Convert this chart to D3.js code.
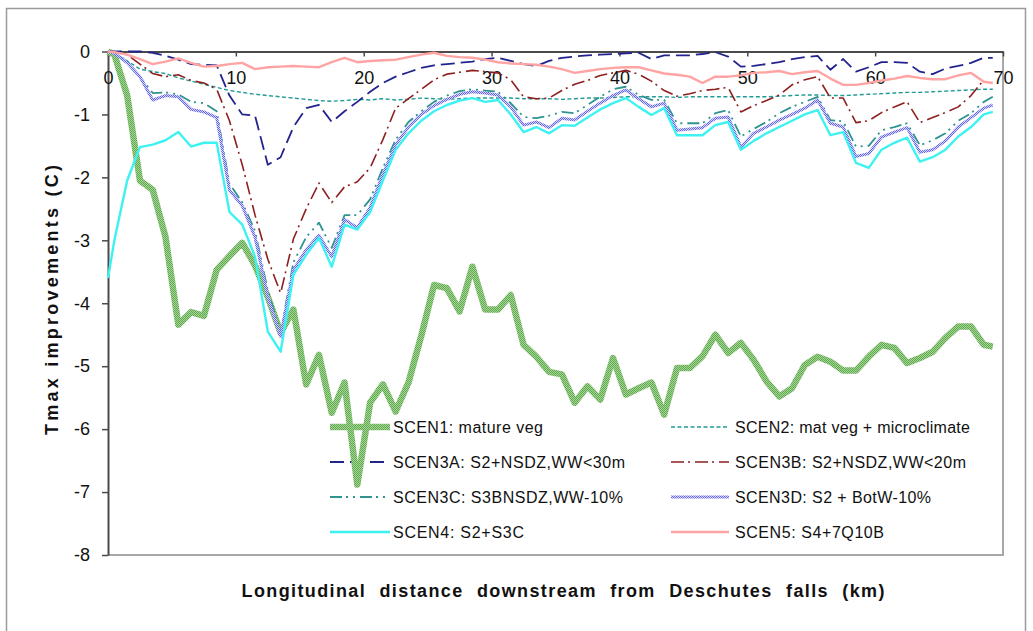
<!DOCTYPE html>
<html>
<head>
<meta charset="utf-8">
<script src="https://cdn.jsdelivr.net/npm/d3@7"></script>
<style>
  html, body { margin: 0; padding: 0; background: #ffffff; }
  svg { display: block; font-family: "Liberation Sans", Arial, sans-serif; }
</style>
</head>
<body>
<script>
// River km of each model node, downstream from Deschutes falls
const km = [0, 0.5, 1.5, 2.5, 3.5, 4.5, 5.5, 6.5, 7.5, 8.5, 9.5,
  10.5, 11.5, 12.5, 13.5, 14.5, 15.5, 16.5, 17.5, 18.5, 19.5,
  20.5, 21.5, 22.5, 23.5, 24.5, 25.5, 26.5, 27.5, 28.5, 29.5,
  30.5, 31.5, 32.5, 33.5, 34.5, 35.5, 36.5, 37.5, 38.5, 39.5,
  40.5, 41.5, 42.5, 43.5, 44.5, 45.5, 46.5, 47.5, 48.5, 49.5,
  50.5, 51.5, 52.5, 53.5, 54.5, 55.5, 56.5, 57.5, 58.5, 59.5,
  60.5, 61.5, 62.5, 63.5, 64.5, 65.5, 66.5, 67.5, 68.5, 69.2];

// Tmax improvement (C) per scenario, one value per node above
const scen1 = [0, -0.05, -0.7, -2.05, -2.2, -2.95, -4.34, -4.14, -4.2, -3.47, -3.25,
  -3.04, -3.4, -3.9, -4.47, -4.1, -5.29, -4.82, -5.74, -5.26, -6.88,
  -5.58, -5.29, -5.72, -5.26, -4.52, -3.71, -3.76, -4.13, -3.42, -4.1,
  -4.1, -3.87, -4.66, -4.85, -5.09, -5.13, -5.58, -5.32, -5.53, -4.87,
  -5.45, -5.35, -5.26, -5.77, -5.03, -5.03, -4.84, -4.5, -4.79, -4.63,
  -4.9, -5.24, -5.48, -5.35, -4.98, -4.85, -4.93, -5.07, -5.07, -4.85,
  -4.66, -4.71, -4.95, -4.87, -4.77, -4.55, -4.37, -4.37, -4.66, -4.69];

const scen2 = [0, -0.02, -0.15, -0.28, -0.32, -0.35, -0.42, -0.47, -0.52, -0.57, -0.62,
  -0.65, -0.68, -0.7, -0.72, -0.74, -0.76, -0.78, -0.79, -0.78, -0.76,
  -0.77, -0.75, -0.77, -0.76, -0.74, -0.75, -0.76, -0.75, -0.74, -0.74,
  -0.74, -0.74, -0.75, -0.75, -0.75, -0.76, -0.75, -0.74, -0.74, -0.73,
  -0.72, -0.72, -0.72, -0.72, -0.73, -0.72, -0.72, -0.72, -0.72, -0.72,
  -0.72, -0.72, -0.71, -0.7, -0.69, -0.69, -0.7, -0.7, -0.69, -0.68,
  -0.67, -0.66, -0.65, -0.65, -0.64, -0.63, -0.62, -0.61, -0.6, -0.6];

const scen3a = [0, 0, 0, 0, -0.02, -0.07, -0.13, -0.2, -0.21, -0.22, -0.7,
  -1.0, -1.02, -1.8, -1.68, -1.2, -0.9, -0.85, -1.12, -0.95, -0.8,
  -0.64, -0.5, -0.4, -0.33, -0.26, -0.22, -0.2, -0.18, -0.16, -0.12,
  -0.1, -0.15, -0.2, -0.23, -0.15, -0.1, -0.08, -0.06, -0.05, -0.04,
  -0.03, -0.02, -0.12, -0.06, -0.06, -0.06, -0.04, -0.01, -0.08, -0.24,
  -0.23, -0.2, -0.17, -0.12, -0.09, -0.07, -0.29, -0.12, -0.32, -0.25,
  -0.17, -0.17, -0.18, -0.32, -0.36, -0.27, -0.23, -0.18, -0.1, -0.1];

const scen3b = [0, -0.01, -0.05, -0.2, -0.35, -0.4, -0.37, -0.46, -0.5, -0.6, -1.1,
  -1.8, -2.6, -3.3, -3.84, -2.98, -2.5, -2.09, -2.4, -2.15, -2.07,
  -1.85, -1.4, -0.9, -0.75, -0.6, -0.45, -0.36, -0.33, -0.3, -0.32,
  -0.34, -0.45, -0.72, -0.75, -0.74, -0.62, -0.52, -0.46, -0.38, -0.34,
  -0.3, -0.36, -0.47, -0.62, -0.71, -0.67, -0.62, -0.6, -0.57, -0.96,
  -0.86, -0.78, -0.69, -0.53, -0.45, -0.4, -0.74, -0.74, -1.13, -1.1,
  -0.97, -0.88, -0.8, -1.13, -1.05, -0.97, -0.88, -0.7, -0.45, null];

const scen3c = [0, -0.03, -0.15, -0.4, -0.66, -0.65, -0.68, -0.8, -0.82, -0.95, -2.1,
  -2.4, -2.85, -3.8, -4.47, -3.35, -2.95, -2.72, -3.12, -2.6, -2.6,
  -2.35, -1.85, -1.4, -1.12, -0.95, -0.8, -0.7, -0.63, -0.6, -0.62,
  -0.64, -0.82, -1.04, -1.06, -1.02, -0.96, -0.98, -0.85, -0.72, -0.6,
  -0.56, -0.69, -0.77, -0.77, -1.14, -1.14, -1.14, -0.98, -0.93, -1.35,
  -1.23, -1.12, -0.98, -0.88, -0.8, -0.72, -1.09, -1.11, -1.51, -1.5,
  -1.25, -1.2, -1.14, -1.49, -1.41, -1.3, -1.1, -0.98, -0.8, -0.72];

const scen3d = [0, -0.03, -0.18, -0.4, -0.77, -0.7, -0.72, -0.92, -0.96, -1.05, -2.2,
  -2.45, -2.95, -3.9, -4.53, -3.47, -3.15, -2.92, -3.26, -2.67, -2.8,
  -2.48, -1.95, -1.48, -1.2, -1.0, -0.86, -0.76, -0.68, -0.64, -0.66,
  -0.69, -0.88, -1.17, -1.12, -1.21, -1.06, -1.09, -0.95, -0.82, -0.7,
  -0.61, -0.75, -0.88, -0.82, -1.25, -1.23, -1.21, -1.06, -1.04, -1.52,
  -1.3, -1.2, -1.09, -1.0, -0.9, -0.77, -1.14, -1.2, -1.67, -1.62,
  -1.36, -1.28, -1.21, -1.6, -1.56, -1.42, -1.2, -1.05, -0.9, -0.85];

const scen4 = [-3.6, -3.0, -2.05, -1.52, -1.48, -1.41, -1.28, -1.51, -1.45, -1.45, -2.55,
  -2.75, -3.26, -4.45, -4.77, -3.55, -3.23, -2.96, -3.42, -2.75, -2.83,
  -2.55, -2.05, -1.56, -1.3, -1.1, -0.95, -0.85, -0.78, -0.74, -0.8,
  -0.77, -1.0, -1.28, -1.2, -1.3, -1.17, -1.18, -1.05, -0.92, -0.82,
  -0.74, -0.88, -1.01, -0.9, -1.33, -1.33, -1.33, -1.17, -1.12, -1.56,
  -1.42, -1.3, -1.2, -1.1, -1.0, -0.93, -1.33, -1.28, -1.77, -1.85,
  -1.56, -1.45, -1.37, -1.75, -1.68, -1.56, -1.35, -1.2, -1.0, -0.96];

const scen5 = [0, -0.01, -0.05, -0.12, -0.2, -0.16, -0.11, -0.18, -0.24, -0.23, -0.2,
  -0.18, -0.28, -0.25, -0.24, -0.23, -0.24, -0.25, -0.17, -0.1, -0.17,
  -0.15, -0.14, -0.13, -0.09, -0.05, -0.02, -0.07, -0.09, -0.1, -0.13,
  -0.17, -0.19, -0.2, -0.21, -0.24, -0.28, -0.34, -0.31, -0.28, -0.26,
  -0.25, -0.25, -0.3, -0.35, -0.37, -0.4, -0.5, -0.4, -0.4, -0.38,
  -0.34, -0.33, -0.31, -0.36, -0.33, -0.31, -0.43, -0.53, -0.53, -0.5,
  -0.46, -0.43, -0.39, -0.42, -0.44, -0.44, -0.38, -0.34, -0.48, -0.5];

const seriesNames = [
  "SCEN1: mature veg",
  "SCEN2: mat veg + microclimate",
  "SCEN3A: S2+NSDZ,WW<30m",
  "SCEN3B: S2+NSDZ,WW<20m",
  "SCEN3C: S3BNSDZ,WW-10%",
  "SCEN3D: S2 + BotW-10%",
  "SCEN4: S2+S3C",
  "SCEN5: S4+7Q10B"
];
const seriesValues = [scen1, scen2, scen3a, scen3b, scen3c, scen3d, scen4, scen5];

const xTicks = [0, 10, 20, 30, 40, 50, 60, 70];
const yTicks = [0, -1, -2, -3, -4, -5, -6, -7, -8];
const yTickLabels = ["0", "-1", "-2", "-3", "-4", "-5", "-6", "-7", "-8"];

const xTitle = "Longitudinal distance downstream from Deschutes falls (km)";
const yTitle = "Tmax improvements (C)";

// ---- styling for each series ----
const styles = [
  { stroke: "url(#texGreen)", width: 6.5, dash: null },
  { stroke: "#1f9a94", width: 1.4, dash: "4,2.5" },
  { stroke: "#23238e", width: 1.8, dash: "14,6" },
  { stroke: "#8e1f1f", width: 1.6, dash: "13,4,2,5" },
  { stroke: "#2f9490", width: 1.8, dash: "12,4,2,5,2,5" },
  { stroke: "url(#texBlue)", width: 3, dash: null },
  { stroke: "#3ef2f2", width: 2.4, dash: null },
  { stroke: "#ffa3a3", width: 2.4, dash: null }
];

const W = 1033, H = 631;
const svg = d3.select("body").append("svg").attr("width", W).attr("height", H);

// textured strokes
const defs = svg.append("defs");
const pg = defs.append("pattern").attr("id", "texGreen")
  .attr("patternUnits", "userSpaceOnUse").attr("width", 2).attr("height", 2);
pg.append("rect").attr("width", 2).attr("height", 2).attr("fill", "#a8d698");
pg.append("rect").attr("width", 1).attr("height", 1).attr("fill", "#5ea84e");
pg.append("rect").attr("x", 1).attr("y", 1).attr("width", 1).attr("height", 1).attr("fill", "#5ea84e");
const pb = defs.append("pattern").attr("id", "texBlue")
  .attr("patternUnits", "userSpaceOnUse").attr("width", 2).attr("height", 2);
pb.append("rect").attr("width", 2).attr("height", 2).attr("fill", "#dadaff");
pb.append("rect").attr("width", 1).attr("height", 1).attr("fill", "#6262f2");
pb.append("rect").attr("x", 1).attr("y", 1).attr("width", 1).attr("height", 1).attr("fill", "#6262f2");

// outer chart frame
svg.append("rect").attr("x", 6.5).attr("y", 8.5).attr("width", 1019).attr("height", 650)
  .attr("fill", "#ffffff").attr("stroke", "#9a9a9a").attr("stroke-width", 1.5);

const x = d3.scaleLinear().domain([0, 70]).range([108, 1003]);
const y = d3.scaleLinear().domain([-8, 0]).range([555, 51.5]);

// plot area border (right and bottom)
svg.append("path")
  .attr("d", `M${x(0)},${y(-8)}H${x(70)}V${y(0)}`)
  .attr("fill", "none").attr("stroke", "#a8a8a8").attr("stroke-width", 2);

// y axis
const yAxis = svg.append("g").attr("transform", `translate(${x(0)},0)`)
  .call(d3.axisLeft(y).tickValues(yTicks).tickSize(6).tickSizeOuter(0).tickPadding(12)
    .tickFormat((d, i) => yTickLabels[i]));
yAxis.select(".domain").attr("stroke", "#4a4a4a").attr("stroke-width", 2);
yAxis.selectAll(".tick line").attr("stroke", "#4a4a4a").attr("stroke-width", 1.5);
yAxis.selectAll(".tick text").attr("font-size", 18).attr("fill", "#111")
  .attr("font-family", "Liberation Sans, Arial, sans-serif");

// x axis along the zero line at the top
const xAxis = svg.append("g").attr("transform", `translate(0,${y(0)})`)
  .call(d3.axisBottom(x).tickValues(xTicks).tickSize(5).tickSizeOuter(0).tickPadding(15)
    .tickFormat(d3.format("d")));
xAxis.select(".domain").attr("stroke", "#4a4a4a").attr("stroke-width", 2);
xAxis.selectAll(".tick line").attr("stroke", "#4a4a4a").attr("stroke-width", 1.5);
xAxis.selectAll(".tick text").attr("font-size", 18).attr("fill", "#111")
  .attr("font-family", "Liberation Sans, Arial, sans-serif");

// axis titles
svg.append("text")
  .attr("x", 563).attr("y", 597)
  .attr("text-anchor", "middle")
  .attr("font-size", 18).attr("font-weight", "bold").attr("fill", "#111")
  .attr("word-spacing", 7)
  .attr("textLength", 643).attr("lengthAdjust", "spacing")
  .text(xTitle);
svg.append("text")
  .attr("transform", "translate(58,300) rotate(-90)")
  .attr("text-anchor", "middle")
  .attr("font-size", 18).attr("font-weight", "bold").attr("fill", "#111")
  .attr("textLength", 270).attr("lengthAdjust", "spacing")
  .text(yTitle);

// legend (two columns, row-major), drawn beneath the lines
const legendCols = [{ x0: 330, x1: 390, tx: 393 }, { x0: 671, x1: 729, tx: 735 }];
const legendRows = [427, 462, 497, 532];
const legendWidths = [150, 235, 232, 231, 230, 196, 131, 149];
const legend = svg.append("g");
seriesNames.forEach((name, i) => {
  const c = legendCols[i % 2], ry = legendRows[Math.floor(i / 2)];
  const s = styles[i];
  legend.append("line")
    .attr("x1", c.x0).attr("x2", c.x1).attr("y1", ry).attr("y2", ry)
    .attr("stroke", s.stroke).attr("stroke-width", s.width)
    .attr("stroke-dasharray", s.dash);
  legend.append("text")
    .attr("x", c.tx).attr("y", ry + 6)
    .attr("font-size", 16).attr("fill", "#111")
    .attr("textLength", legendWidths[i]).attr("lengthAdjust", "spacing")
    .text(name);
});

// series lines
const line = d3.line()
  .defined(d => d[1] !== null)
  .x(d => x(d[0]))
  .y(d => y(d[1]));

const lines = svg.append("g").attr("fill", "none")
  .attr("stroke-linejoin", "round");
seriesValues.forEach((vals, i) => {
  const s = styles[i];
  lines.append("path")
    .datum(km.map((k, j) => [k, vals[j]]))
    .attr("d", line)
    .attr("stroke", s.stroke)
    .attr("stroke-width", s.width)
    .attr("stroke-dasharray", s.dash);
});
</script>
</body>
</html>
